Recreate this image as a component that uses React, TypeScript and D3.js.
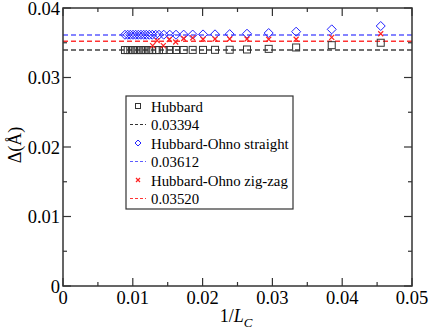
import React, { useEffect, useRef } from 'react';
import * as d3 from 'd3';

// x = 1/L_C values
const invL = [0.00888, 0.00927, 0.00964, 0.01003, 0.01041, 0.01079, 0.01117, 0.01156, 0.01193, 0.01236,
    0.01279, 0.01328, 0.01375, 0.01443, 0.01529, 0.01619, 0.01729, 0.01858, 0.02006, 0.02178,
    0.02388, 0.02636, 0.02947, 0.0334, 0.0385, 0.04552];
const hubbard = [0.03395, 0.03395, 0.03395, 0.03395, 0.03395, 0.03395, 0.03395, 0.03395, 0.03395, 0.03395,
    0.03395, 0.03395, 0.03395, 0.03395, 0.03396, 0.03396, 0.03396, 0.03397, 0.03397, 0.03398,
    0.03399, 0.03403, 0.03412, 0.03432, 0.03465, 0.035];
const straight = [0.03615, 0.03615, 0.03615, 0.03615, 0.03615, 0.03615, 0.03615, 0.03615, 0.03615, 0.03615,
    0.03615, 0.03615, 0.03615, 0.03616, 0.03616, 0.03616, 0.03617, 0.03618, 0.0362, 0.03621,
    0.03624, 0.0363, 0.0364, 0.03659, 0.03693, 0.03741];
const invLZig = [0.01284, 0.0135, 0.01437, 0.01523, 0.01614, 0.01729, 0.01858, 0.02006, 0.02178, 0.02388,
    0.02636, 0.02947, 0.0334, 0.0385, 0.04552];
const zigzag = [0.03458, 0.0353, 0.03458, 0.03547, 0.03511, 0.03561, 0.0357, 0.0355, 0.03554, 0.03554,
    0.03554, 0.0355, 0.0355, 0.03578, 0.0363];
const fits = [0.03394, 0.03612, 0.03520];
const fitColors = ['#000000', '#3333ff', '#ff0000'];
const legendLabels = ['Hubbard', '0.03394', 'Hubbard-Ohno straight', '0.03612', 'Hubbard-Ohno zig-zag', '0.03520'];
const xTicks = [0, 0.01, 0.02, 0.03, 0.04, 0.05];
const yTicks = [0, 0.01, 0.02, 0.03, 0.04];

const App = () => {
    const ref = useRef<SVGSVGElement>(null);

    useEffect(() => {
        const svg = d3.select(ref.current);
        svg.selectAll('*').remove();

        const left = 63, right = 412, top = 8, bottom = 286;
        const x = d3.scaleLinear().domain([0, 0.05]).range([left, right]);
        const y = d3.scaleLinear().domain([0, 0.04]).range([bottom, top]);
        const font = '"Liberation Serif", "Times New Roman", serif';
        const frame = '#333';

        // dashed fit lines
        fits.forEach((v, i) => {
            svg.append('line')
                .attr('x1', x(0)).attr('x2', x(0.05))
                .attr('y1', y(v)).attr('y2', y(v))
                .attr('stroke', fitColors[i])
                .attr('stroke-opacity', i === 0 ? 0.75 : 0.8)
                .attr('stroke-width', 1.5)
                .attr('stroke-dasharray', '5,3');
        });

        // frame
        svg.append('rect')
            .attr('x', left).attr('y', top)
            .attr('width', right - left).attr('height', bottom - top)
            .attr('fill', 'none').attr('stroke', frame).attr('stroke-width', 1.5);

        // ticks, inward on all four sides
        const ticks = (v: number, major: boolean, axis: 'x' | 'y') => {
            const len = major ? 8 : 4;
            if (axis === 'x') {
                svg.append('line').attr('x1', x(v)).attr('x2', x(v)).attr('y1', bottom).attr('y2', bottom - len)
                    .attr('stroke', frame).attr('stroke-width', 1.2);
                svg.append('line').attr('x1', x(v)).attr('x2', x(v)).attr('y1', top).attr('y2', top + len)
                    .attr('stroke', frame).attr('stroke-width', 1.2);
            } else {
                svg.append('line').attr('x1', left).attr('x2', left + len).attr('y1', y(v)).attr('y2', y(v))
                    .attr('stroke', frame).attr('stroke-width', 1.2);
                svg.append('line').attr('x1', right).attr('x2', right - len).attr('y1', y(v)).attr('y2', y(v))
                    .attr('stroke', frame).attr('stroke-width', 1.2);
            }
        };
        d3.range(0, 0.0501, 0.005).forEach((v, i) => ticks(v, i % 2 === 0, 'x'));
        d3.range(0, 0.0401, 0.005).forEach((v, i) => ticks(v, i % 2 === 0, 'y'));

        const fmt = (v: number) => (v === 0 ? '0' : d3.format('.2f')(v));
        svg.selectAll('.xl').data(xTicks).enter().append('text')
            .attr('x', d => x(d)).attr('y', 304)
            .attr('text-anchor', 'middle')
            .style('font-family', font).style('font-size', '18.5px')
            .text(fmt);
        svg.selectAll('.yl').data(yTicks).enter().append('text')
            .attr('x', 60).attr('y', d => y(d) + 6.5)
            .attr('text-anchor', 'end')
            .style('font-family', font).style('font-size', '18.5px')
            .text(fmt);

        // axis titles
        const xt = svg.append('text').attr('x', 236).attr('y', 322).attr('text-anchor', 'middle')
            .style('font-family', font).style('font-size', '18px');
        xt.append('tspan').text('1/');
        xt.append('tspan').style('font-style', 'italic').text('L');
        xt.append('tspan').attr('dy', 5).style('font-style', 'italic').style('font-size', '13px').text('C');
        svg.append('text')
            .attr('transform', `translate(21,${(top + bottom) / 2 - 2}) rotate(-90)`)
            .attr('text-anchor', 'middle')
            .style('font-family', font).style('font-size', '18px')
            .text('Δ(Å)');

        // markers
        const square = (g: any, cx: number, cy: number) => g.append('rect')
            .attr('x', cx - 3.5).attr('y', cy - 3.5).attr('width', 7).attr('height', 7)
            .attr('fill', 'none').attr('stroke', '#333').attr('stroke-width', 1);
        const diamond = (g: any, cx: number, cy: number) => g.append('path')
            .attr('d', `M${cx},${cy - 4.5}L${cx + 4.5},${cy}L${cx},${cy + 4.5}L${cx - 4.5},${cy}Z`)
            .attr('fill', 'none').attr('stroke', '#2222ff').attr('stroke-width', 1);
        const cross = (g: any, cx: number, cy: number) => g.append('path')
            .attr('d', `M${cx - 2.5},${cy - 2.5}L${cx + 2.5},${cy + 2.5}M${cx - 2.5},${cy + 2.5}L${cx + 2.5},${cy - 2.5}`)
            .attr('stroke', '#ff2020').attr('stroke-width', 1.2);

        invL.forEach((v, i) => square(svg, x(v), y(hubbard[i])));
        invL.forEach((v, i) => diamond(svg, x(v), y(straight[i])));
        invLZig.forEach((v, i) => cross(svg, x(v), y(zigzag[i])));

        // legend
        const lg = svg.append('g');
        lg.append('rect').attr('x', 126).attr('y', 96).attr('width', 167).attr('height', 113)
            .attr('fill', 'white').attr('stroke', frame).attr('stroke-width', 1.2);
        legendLabels.forEach((lab, i) => {
            const cy = 106 + i * 18.5;
            if (i % 2 === 0) {
                const k = i / 2;
                if (k === 0) square(lg, 138, cy).attr('width', 5).attr('height', 5).attr('x', 135.5).attr('y', cy - 2.5);
                else if (k === 1) diamond(lg, 138, cy).attr('d', `M138,${cy - 3}L141,${cy}L138,${cy + 3}L135,${cy}Z`);
                else cross(lg, 138, cy).attr('d', `M136,${cy - 2}L140,${cy + 2}M136,${cy + 2}L140,${cy - 2}`);
            } else {
                lg.append('line').attr('x1', 130).attr('x2', 146).attr('y1', cy).attr('y2', cy)
                    .attr('stroke', fitColors[(i - 1) / 2]).attr('stroke-opacity', 0.8)
                    .attr('stroke-width', 1).attr('stroke-dasharray', '3,2');
            }
            lg.append('text').attr('x', 151).attr('y', cy + 5.5)
                .style('font-family', font).style('font-size', '14.8px')
                .text(lab);
        });
    }, []);

    return <svg ref={ref} width={431} height={331}
        style={{ position: 'absolute', left: 0, top: 0, background: 'white' }} />;
};

export default App;
